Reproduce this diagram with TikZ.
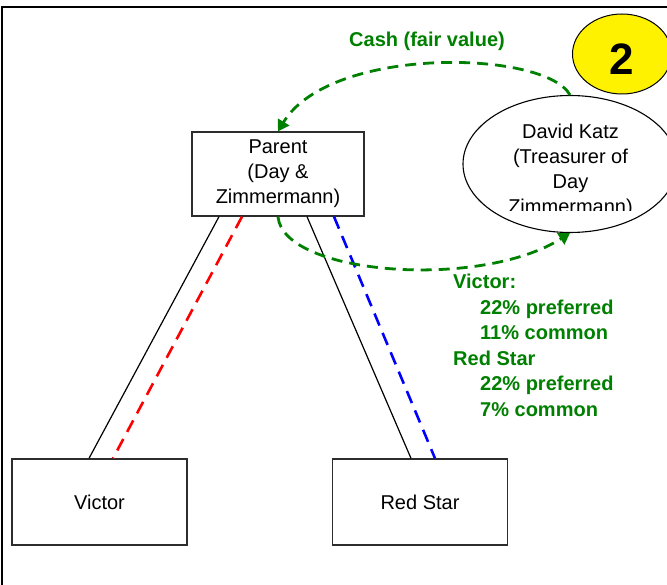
\documentclass[tikz,border=0pt]{standalone}
\usepackage{fontspec}
\setmainfont{Liberation Sans}
\usetikzlibrary{shapes.geometric,arrows.meta}
\definecolor{dgreen}{RGB}{0,128,0}
\definecolor{boxline}{RGB}{45,45,45}
\begin{document}
\begin{tikzpicture}[x=1pt,y=-1pt,
  box/.style={draw=boxline, line width=1.3pt, rectangle, inner sep=0pt,
    minimum width=175pt, minimum height=86pt,
    font=\fontsize{20}{25}\selectfont, align=center},
  link/.style={black, line width=1.2pt},
  own/.style={line width=2.6pt, dash pattern=on 13pt off 8pt},
  cash/.style={dgreen, line width=2.8pt, dash pattern=on 11pt off 7pt,
    -{Triangle[length=11pt,width=13pt]}},
  note/.style={dgreen, font=\bfseries\fontsize{20}{25}\selectfont,
    anchor=base west, inner sep=0pt}]
\useasboundingbox (0,0) rectangle (667,585);
\clip (0,0) rectangle (667,585);
\fill[white] (0,0) rectangle (667,585);
\draw[line width=2pt] (667,7.5) -- (1.5,7.5) -- (1.5,585);

% nodes
\node[box, minimum width=172pt, minimum height=84pt] (parent) at (278,174)
  {Parent\\(Day \&\\Zimmermann)};
\node[box] (victor) at (99.5,502) {Victor};
\node[box] (redstar) at (420,502) {Red Star};
\node[draw=black, line width=1.1pt, ellipse, inner sep=0pt,
  minimum width=214pt, minimum height=137pt] (katz) at (570,164) {};
\begin{scope}
  \clip (440,95) rectangle (667,210.5);
  \node[align=center, inner sep=0pt, font=\fontsize{20}{25}\selectfont]
    (katztext) at (570.5,171) {David Katz\\(Treasurer of\\Day\\Zimmermann)};
\end{scope}
\node[draw=black, line width=1pt, fill=yellow, ellipse, inner sep=0pt,
  minimum width=99pt, minimum height=80pt] (badge) at (622,54) {};
\node[inner sep=0pt, font=\bfseries\fontsize{44}{44}\selectfont] (two) at (622,59.5) {2};

% ownership lines
\draw[link] ([xshift=-59pt]parent.south) -- ([xshift=-10.5pt]victor.north);
\draw[own, red] ([xshift=-36pt]parent.south) -- ([xshift=13.5pt]victor.north);
\draw[link] ([xshift=29pt]parent.south) -- ([xshift=-9pt]redstar.north);
\draw[own, blue] ([xshift=56pt]parent.south) -- ([xshift=15pt]redstar.north);

% cash / shares arrows
\draw[cash] (katz.north) .. controls (545,50) and (330,45) .. (parent.north);
\draw[cash] (parent.south) .. controls (283,275) and (480,290) .. (katz.south);

% labels
\node[note] (cashlbl) at (349,46.7) {Cash (fair value)};
\node[note] (n1) at (453,289) {Victor:};
\node[note] (n2) at (480,314.5) {22\% preferred};
\node[note] (n3) at (480,340) {11\% common};
\node[note] (n4) at (453,365.5) {Red Star};
\node[note] (n5) at (480,391) {22\% preferred};
\node[note] (n6) at (480,416.5) {7\% common};
\end{tikzpicture}
\end{document}
